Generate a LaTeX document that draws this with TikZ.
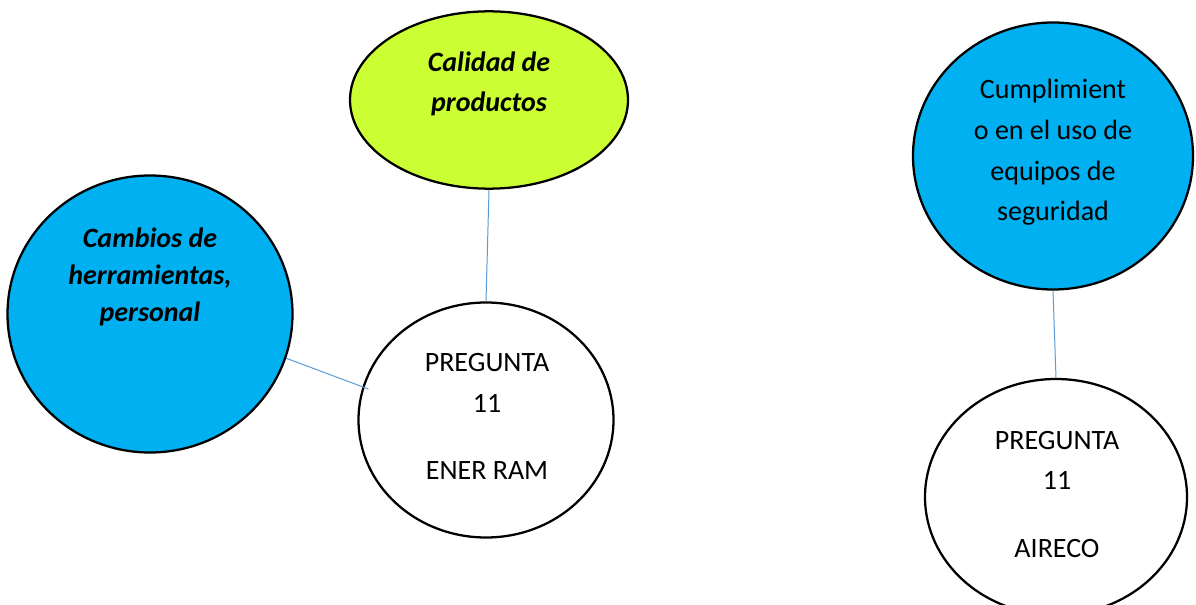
\documentclass[tikz,border=0pt]{standalone}
\usepackage{fontspec}
\setmainfont{Carlito}
\usetikzlibrary{shapes.geometric}

\tikzset{every picture/.style={line width=0.75pt}}
\tikzset{
  bubble/.style={draw, ellipse, line width=1.7pt, inner sep=0pt},
  link/.style={draw={rgb, 255:red, 91; green, 155; blue, 213}, line width=0.75pt},
  bubbletext/.style={anchor=base, inner sep=0pt, align=center, font=\fontsize{21}{30.5}\selectfont}
}

\begin{document}
\begin{tikzpicture}[x=0.75pt,y=0.75pt,yscale=-1,xscale=1]
\useasboundingbox (0,0) rectangle (1196,605);

%Shape: Ellipse [Calidad de productos]
\node [bubble, fill={rgb, 255:red, 204; green, 255; blue, 51}, minimum width=208.5pt, minimum height=133pt] (calidad) at (489,100) {};
%Shape: Circle [Cambios de herramientas]
\node [bubble, fill={rgb, 255:red, 0; green, 176; blue, 240}, minimum width=213.75pt, minimum height=207.75pt] (cambios) at (150,314) {};
%Shape: Circle [Pregunta 11 Ener Ram]
\node [bubble, fill=white, minimum width=191.25pt, minimum height=176.25pt] (enerram) at (486,420) {};
%Shape: Circle [Cumplimiento]
\node [bubble, fill={rgb, 255:red, 0; green, 176; blue, 240}, minimum width=210pt, minimum height=200.25pt] (cumplimiento) at (1053,156) {};
%Shape: Circle [Pregunta 11 Aireco]
\node [bubble, fill=white, minimum width=196.5pt, minimum height=177pt] (aireco) at (1056,497) {};

%Straight Lines
\draw [link] (calidad.south) -- (enerram.north);
\draw [link] (cambios.-18) -- ([xshift=5pt]enerram.166);
\draw [link] (cumplimiento.south) -- (aireco.north);

% Text Node
\node [bubbletext, font=\fontsize{21}{30}\selectfont\bfseries\itshape] (calidadtext) at (489,112) {Calidad de\\productos};
% Text Node
\node [bubbletext, font=\fontsize{21}{28}\selectfont\bfseries\itshape] (cambiostext) at (150,322) {Cambios de\\herramientas,\\personal};
% Text Node
\node [bubbletext] (enerramtext) at (487,480) {PREGUNTA\\11\\[20pt]ENER RAM};
% Text Node
\node [bubbletext] (cumplimientotext) at (1053,221) {Cumplimient\\o en el uso de\\equipos de\\seguridad};
% Text Node
\node [bubbletext] (airecotext) at (1057,557) {PREGUNTA\\11\\[20pt]AIRECO};

\end{tikzpicture}
\end{document}
